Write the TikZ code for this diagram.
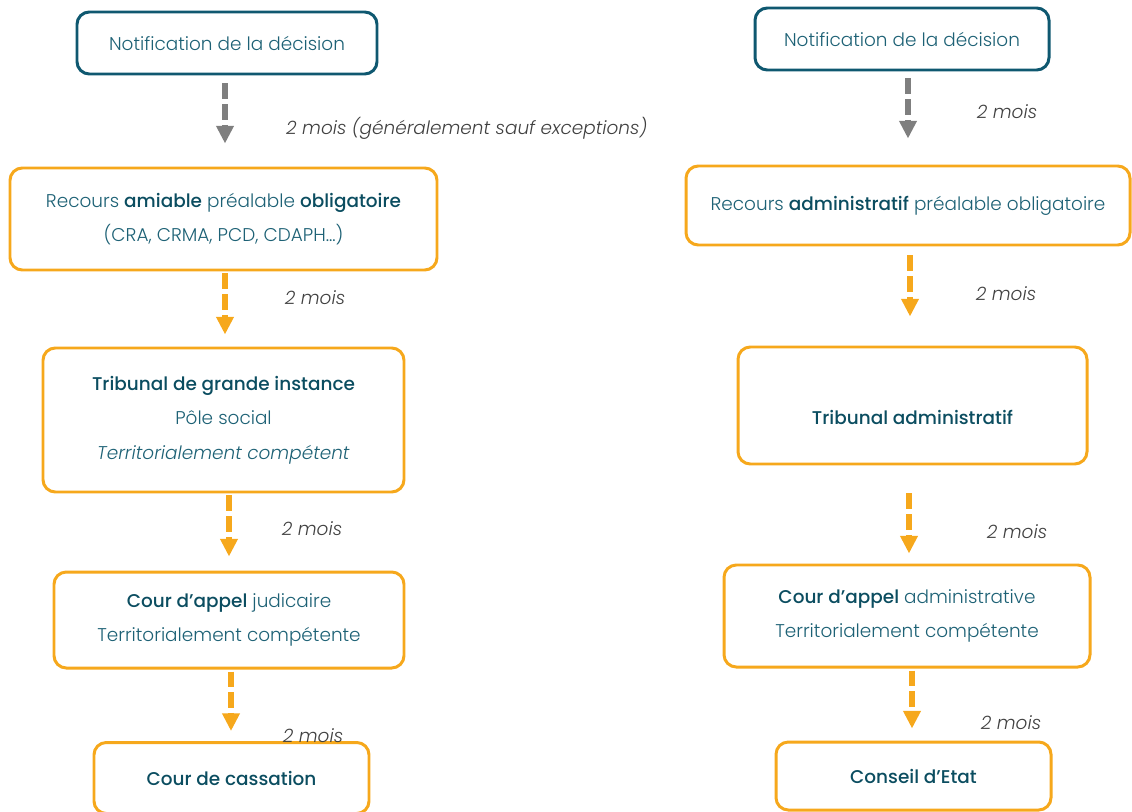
\documentclass[tikz,border=0pt]{standalone}
\usepackage{fontspec}
\setmainfont{Poppins}[UprightFont=* Light, BoldFont=* Medium, ItalicFont=* Light Italic, BoldItalicFont=* Medium Italic]
\usetikzlibrary{arrows.meta,calc}
\definecolor{RecoursTeal}{HTML}{1D6175}
\definecolor{RecoursDeep}{HTML}{0B4D60}
\definecolor{RecoursBlue}{HTML}{0F5870}
\definecolor{RecoursOrange}{HTML}{F6A81C}
\definecolor{RecoursGrey}{HTML}{7F7F7F}
\definecolor{RecoursNote}{HTML}{404040}
\def\px{0.02cm}
\tikzset{
  recours text/.style={font=\fontsize{10.5}{19.6}\selectfont, text=RecoursTeal, align=center},
  recours start/.style={recours text, draw=RecoursBlue, line width=1.7pt, rounded corners=7pt},
  recours stepbox/.style={recours text, draw=RecoursOrange, line width=1.7pt, rounded corners=7pt},
  recours delay/.style={font=\itshape\fontsize{10.5}{12}\selectfont, text=RecoursNote},
  recours wait/.style={draw=RecoursGrey, line width=3.2pt, dash pattern=on 9pt off 2.8pt, -{Triangle[length=10pt,width=9.5pt]}},
  recours flow/.style={recours wait, draw=RecoursOrange},
}
\newcommand{\Fort}[1]{\textbf{\color{RecoursDeep}#1}}

\begin{document}
\begin{tikzpicture}[x=\px,y=-\px]
  \useasboundingbox (0,0) rectangle (1132,811);

  % left column
  \node[recours start, minimum width=300*\px, minimum height=62*\px] (notifA) at (227,43) {Notification de la décision};
  \node[recours stepbox, minimum width=427*\px, minimum height=102*\px] (amiable) at (223.5,219)
    {Recours \Fort{amiable} préalable \Fort{obligatoire}\\(CRA, CRMA, PCD, CDAPH…)};
  \node[recours stepbox, minimum width=361*\px, minimum height=144*\px] (tgi) at (223.5,420)
    {\Fort{Tribunal de grande instance}\\Pôle social\\\textit{Territorialement compétent}};
  \node[recours stepbox, minimum width=350*\px, minimum height=96*\px] (appelA) at (229,620)
    {\Fort{Cour d’appel} judicaire\\Territorialement compétente};
  \node[recours stepbox, minimum width=275*\px, minimum height=71*\px] (cassation) at (231.5,778)
    {\Fort{Cour de cassation}};

  \draw[recours wait] (notifA.south) ++(-2,8) -- ($(notifA.south |- amiable.north)+(-2,-23)$);
  \draw[recours flow] (amiable.south) ++(1.5,2) -- ($(amiable.south |- tgi.north)+(1.5,-12)$);
  \draw[recours flow] (tgi.south) ++(5.5,2) -- ($(tgi.south |- appelA.north)+(5.5,-14)$);
  \draw[recours flow] (appelA.south) ++(2,2) -- ($(appelA.south |- cassation.north)+(2,-10)$);

  \node[recours delay, anchor=west] (delayA1) at (280,128) {2 mois (généralement sauf exceptions)};
  \node[recours delay] (delayA2) at (315,298) {2 mois};
  \node[recours delay] (delayA3) at (312,529) {2 mois};
  \node[recours delay] (delayA4) at (313,736) {2 mois};

  % right column
  \node[recours start, minimum width=294*\px, minimum height=62*\px] (notifB) at (902,39) {Notification de la décision};
  \node[recours stepbox, minimum width=444*\px, minimum height=79*\px] (administratif) at (908,205.5)
    {Recours \Fort{administratif} préalable obligatoire};
  \node[recours stepbox, minimum width=349*\px, minimum height=117*\px] (ta) at (912.5,405.5) {};
  \node[recours text] (taName) at ($(ta.center)+(0,12)$) {\Fort{Tribunal administratif}};
  \node[recours stepbox, minimum width=366*\px, minimum height=102*\px] (appelB) at (907,616)
    {\Fort{Cour d’appel} administrative\\Territorialement compétente};
  \node[recours stepbox, minimum width=275*\px, minimum height=68*\px] (etat) at (913.5,776)
    {\Fort{Conseil d’Etat}};

  \draw[recours wait] (notifB.south) ++(6,7) -- ($(notifB.south |- administratif.north)+(6,-26)$);
  \draw[recours flow] (administratif.south) ++(2,9) -- ($(administratif.south |- ta.north)+(2,-29)$);
  \draw[recours flow] (ta.south) ++(-3.5,28) -- ($(ta.south |- appelB.north)+(-3.5,-10)$);
  \draw[recours flow] (appelB.south) ++(5,2) -- ($(appelB.south |- etat.north)+(5,-12)$);

  \node[recours delay] (delayB1) at (1007,112) {2 mois};
  \node[recours delay] (delayB2) at (1006,294) {2 mois};
  \node[recours delay] (delayB3) at (1017,532) {2 mois};
  \node[recours delay] (delayB4) at (1011,723) {2 mois};
\end{tikzpicture}
\end{document}
